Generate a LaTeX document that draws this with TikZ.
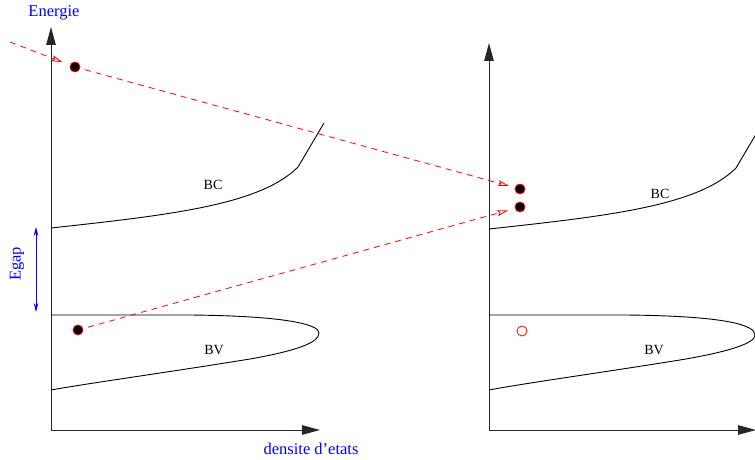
\documentclass[tikz,border=0pt]{standalone}
\usepackage{fontspec}
\setmainfont{Liberation Serif}
\usetikzlibrary{arrows.meta}
\begin{document}
\begin{tikzpicture}[x=1pt,y=-1pt,
  axis/.style={line width=1pt,draw=black!85},
  band/.style={line width=0.9pt,draw=black},
  axisarrow/.style={-{Triangle[length=18pt,width=9.5pt]}},
  elec/.style={circle,draw=red,fill=black,line width=0.8pt,minimum size=10pt,inner sep=0pt},
  hole/.style={circle,draw=red,fill=none,line width=0.8pt,minimum size=10pt,inner sep=0pt},
  transit/.style={draw=red,line width=0.8pt,dash pattern=on 6pt off 5pt,-{Stealth[open,length=11pt,width=6pt,inset=2pt]}},
  bluelbl/.style={text=blue,font=\fontsize{16.5}{18}\selectfont,inner sep=0pt},
  bandlbl/.style={text=black,font=\fontsize{14}{16}\selectfont,inner sep=0pt}]
\useasboundingbox (0,0) rectangle (755,460);

% left axes
\coordinate (LO) at (51,430);
\coordinate (LT) at (51,27);
\coordinate (LR) at (320,430);
\draw[axis,axisarrow] (LO) -- (LT);
\draw[axis,axisarrow] (LO) -- (LR);

% right axes
\coordinate (RO) at (489,430);
\coordinate (RT) at (489,43);
\coordinate (RR) at (756,430);
\draw[axis,axisarrow] (RO) -- (RT);
\draw[axis,axisarrow] (RO) -- (RR);

% left bands
\draw[band] (51,228) .. controls (170,215) and (260,205) .. (298,167) -- (324,123);
\draw[band] (51,315) -- (190,315) .. controls (290,316) and (319,325) .. (319,333)
   .. controls (319,343) and (295,351) .. (250,359) .. controls (170,372) and (90,383) .. (51,390);

% right bands (clipped)
\begin{scope}
\clip (480,0) rectangle (755,460);
\begin{scope}[shift={(438,1)}]
\draw[band] (51,228) .. controls (170,215) and (260,205) .. (298,167) -- (324,123);
\end{scope}
\begin{scope}[shift={(436,0)}]
\draw[band] (53,315) -- (190,315) .. controls (290,316) and (319,325) .. (319,335)
   .. controls (319,343) and (295,351) .. (250,359) .. controls (170,372) and (90,383) .. (53,390);
\end{scope}
\end{scope}

% labels
\node[bluelbl] (energie) at (54,13) {Energie};
\node[bluelbl] (dens) at (311,449) {densite d’etats};
\node[bluelbl,rotate=90] (egap) at (17,264) {Egap};
\node[bandlbl] (bc1) at (213,185) {BC};
\node[bandlbl] (bv1) at (214,350) {BV};
\node[bandlbl] (bc2) at (660,194) {BC};
\node[bandlbl] (bv2) at (654,350) {BV};

% Egap arrow
\coordinate (gtop) at (36,227);
\coordinate (gbot) at (36,312);
\draw[blue,line width=0.8pt,{Stealth[length=9pt,width=4.5pt]}-{Stealth[length=9pt,width=4.5pt]}] (gtop) -- (gbot);

% electrons / hole
\node[elec] (e1) at (75,67) {};
\node[elec] (e2) at (78,330) {};
\node[elec] (e3) at (520,189) {};
\node[elec] (e4) at (520,207) {};
\node[hole] (h1) at (522,331) {};

% transitions
\coordinate (src) at (10,42);
\draw[transit,shorten >=8pt] (src) -- (e1);
\draw[transit,shorten <=5pt,shorten >=6pt] (e1) -- (e3);
\draw[transit,shorten <=5pt,shorten >=7pt] (e2) -- (e4);
\end{tikzpicture}
\end{document}
